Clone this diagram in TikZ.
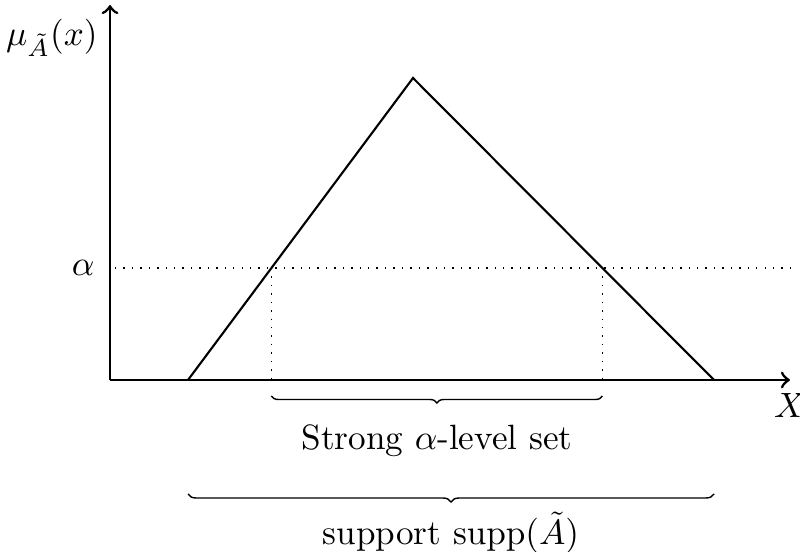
\documentclass[tikz,border=0pt]{standalone}
\usepackage{amsmath}
\usetikzlibrary{decorations.pathreplacing}

\begin{document}
\begin{tikzpicture}[
    axis/.style={->,thick},
    member/.style={semithick},
    guide/.style={dotted,thin},
    curly/.style={decorate,decoration={brace,mirror,amplitude=#1}}
]
    \useasboundingbox (-1.10,-1.72) rectangle (6.90,3.80);

    % 绘制坐标轴
    \coordinate (O) at (0,0);
    \draw[axis] (O) -- (6.80,0) node[below] (X) {$X$};
    \draw[axis] (O) -- (0,3.75);
    \node[anchor=east] (mu) at (0.0,3.42) {$\mu_{\tilde{A}}(x)$};

    % 绘制三角形隶属函数
    \coordinate (L) at (0.78,0);
    \coordinate (T) at (3.03,3.02);
    \coordinate (R) at (6.04,0);
    \draw[member] (L) -- (T) -- (R);

    % 绘制alpha水平线
    \coordinate (A1) at (1.614,1.12);
    \coordinate (A2) at (4.924,1.12);
    \node[anchor=east] (alpha) at (-0.03,1.12) {$\alpha$};
    \draw[guide] (0.05,1.12) -- (6.80,1.12);
    \draw[guide] (A1) -- (A1 |- O);
    \draw[guide] (A2) -- (A2 |- O);

    % 绘制大括号
    \draw[curly=0.07cm] (1.614,-0.16) -- (4.924,-0.16)
        node[midway,below=0.16cm] (strong) {Strong $\alpha$-level set};
    \draw[curly=0.08cm] (0.78,-1.14) -- (6.04,-1.14)
        node[midway,below=0.06cm] (supp) {support $\operatorname{supp}(\tilde{A})$};

\end{tikzpicture}
\end{document}
